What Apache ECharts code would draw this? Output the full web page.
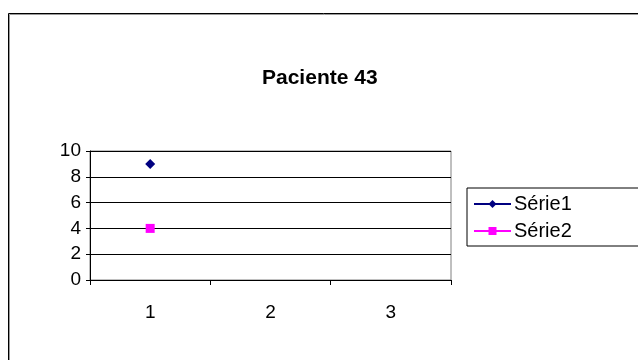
<!DOCTYPE html>
<html>
<head>
<meta charset="utf-8">
<script src="https://cdn.jsdelivr.net/npm/echarts@6/dist/echarts.min.js"></script>
<style>
  html, body { margin: 0; padding: 0; background: #fff; }
  #chart { width: 638px; height: 360px; }
</style>
</head>
<body>
<div id="chart"></div>
<script>
// Chart data
const chartTitle = 'Paciente 43';
const categories = ['1', '2', '3'];
const serie1 = [9, null, null];
const serie2 = [4, null, null];
const seriesNames = ['Série1', 'Série2'];

const FONT = 'Liberation Sans, Arial, sans-serif';

const chart = echarts.init(document.getElementById('chart'), null, { renderer: 'canvas' });

chart.setOption({
  backgroundColor: '#ffffff',
  animation: false,
  title: {
    text: chartTitle,
    left: 262,
    top: 68,
    padding: 0,
    textStyle: { fontFamily: FONT, fontSize: 21, fontWeight: 'bold', color: '#000' }
  },
  legend: {
    orient: 'vertical',
    left: 467,
    top: 188,
    data: seriesNames,
    itemWidth: 37,
    itemHeight: 10,
    itemGap: 7,
    padding: [6, 200, 5, 6],
    borderColor: '#000',
    borderWidth: 1,
    textStyle: { fontFamily: FONT, fontSize: 20, color: '#000', padding: [0, 0, 0, -2] }
  },
  grid: {
    left: 90,
    top: 151,
    width: 361,
    height: 129,
    show: true,
    borderColor: '#808080',
    borderWidth: 1,
    backgroundColor: '#fff'
  },
  xAxis: {
    type: 'category',
    data: categories,
    boundaryGap: true,
    axisLine: { lineStyle: { color: '#000', width: 1 } },
    axisTick: { show: true, alignWithLabel: false, length: 5, lineStyle: { color: '#000' } },
    axisLabel: { fontFamily: FONT, fontSize: 19, color: '#000', margin: 23 },
    splitLine: { show: false }
  },
  yAxis: {
    type: 'value',
    min: 0,
    max: 10,
    interval: 2,
    axisLine: { show: true, lineStyle: { color: '#000', width: 1 } },
    axisTick: { show: true, length: 4, lineStyle: { color: '#000' } },
    axisLabel: { fontFamily: FONT, fontSize: 19, color: '#000', margin: 9 },
    splitLine: { show: true, lineStyle: { color: '#000', width: 1 } }
  },
  series: [
    {
      name: seriesNames[0],
      type: 'line',
      data: serie1,
      symbol: 'diamond',
      symbolSize: 10,
      color: '#000080',
      lineStyle: { color: '#000080', width: 1 },
      itemStyle: { color: '#000080' }
    },
    {
      name: seriesNames[1],
      type: 'line',
      data: serie2,
      symbol: 'rect',
      symbolSize: 9,
      color: '#ff00ff',
      lineStyle: { color: '#ff00ff', width: 1 },
      itemStyle: { color: '#ff00ff' }
    }
  ],
  graphic: [
    {
      type: 'rect',
      silent: true,
      shape: { x: 8.5, y: 13.5, width: 700, height: 400 },
      style: { fill: null, stroke: '#000', lineWidth: 1 }
    },
    {
      type: 'polyline',
      silent: true,
      shape: { points: [[9.5, 420], [9.5, 14.5], [700, 14.5]] },
      style: { fill: null, stroke: '#9a9a9a', lineWidth: 1 }
    }
  ]
});
</script>
</body>
</html>
